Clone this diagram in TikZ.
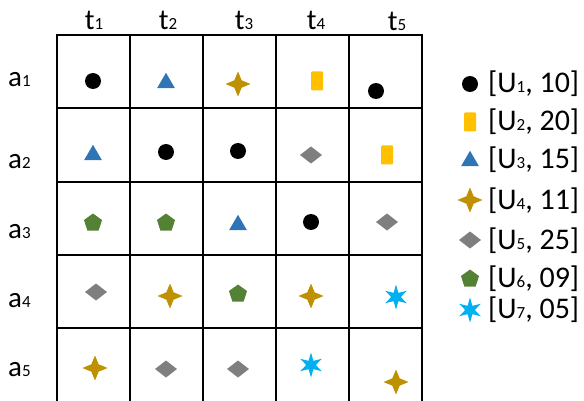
\documentclass[tikz,border=0pt]{standalone}
\usepackage{fontspec}
\setmainfont{Carlito}
\usetikzlibrary{shapes.geometric}

\definecolor{uBlue}{HTML}{2E75B6}
\definecolor{uYellow}{HTML}{FFC000}
\definecolor{uGold}{HTML}{BF9000}
\definecolor{uGray}{HTML}{7F7F7F}
\definecolor{uGreen}{HTML}{548235}
\definecolor{uCyan}{HTML}{00B0F0}

% small index digit set on the baseline
\newcommand{\idx}[1]{{\fontsize{17}{17}\selectfont #1}}

\tikzset{
  mk/.style={inner sep=0pt, outer sep=0pt, draw=none},
  uone/.style={mk, circle, fill=black, minimum size=16pt},
  utwo/.style={mk, rectangle, fill=uYellow, minimum width=12pt, minimum height=19pt, rounded corners=1pt},
  uthree/.style={mk, regular polygon, regular polygon sides=3, fill=uBlue, minimum size=20.5pt},
  ufour/.style={mk, star, star points=4, star point ratio=2.4, fill=uGold, minimum size=25pt},
  ufive/.style={mk, diamond, fill=uGray, minimum width=22pt, minimum height=17pt},
  usix/.style={mk, regular polygon, regular polygon sides=5, fill=uGreen, minimum size=19pt},
  useven/.style={mk, star, star points=6, star point ratio=2.6, fill=uCyan, minimum size=25pt},
  hdr/.style={anchor=base, inner sep=0pt, font=\fontsize{29}{32}\selectfont},
  rowlbl/.style={anchor=base west, inner sep=0pt, font=\fontsize{29}{32}\selectfont},
  legtxt/.style={anchor=base west, inner sep=0pt, font=\fontsize{30}{34}\selectfont},
  gridline/.style={line width=1.8pt, black}
}

\begin{document}
\begin{tikzpicture}[x=1pt, y=-1pt]
  \useasboundingbox (0,0) rectangle (584,401);

  % table grid (open at the bottom)
  \foreach \gx in {57,130,203,276,349,422}
    \draw[gridline] (\gx,34) -- (\gx,402);
  \foreach \gy in {35,108,182,255,328}
    \draw[gridline] (56,\gy) -- (423,\gy);

  % column headers
  \node[hdr] (t1) at (94,30) {t\idx{1}};
  \node[hdr] (t2) at (168,30) {t\idx{2}};
  \node[hdr] (t3) at (244,30) {t\idx{3}};
  \node[hdr] (t4) at (316,30) {t\idx{4}};
  \node[hdr] (t5) at (397,31) {t\idx{5}};

  % row labels
  \node[rowlbl] (a1) at (8,87) {a\idx{1}};
  \node[rowlbl] (a2) at (8,168) {a\idx{2}};
  \node[rowlbl] (a3) at (8,238) {a\idx{3}};
  \node[rowlbl] (a4) at (8,307) {a\idx{4}};
  \node[rowlbl] (a5) at (8,376) {a\idx{5}};

  % row a1
  \node[uone]   (c11) at (93,81) {};
  \node[uthree] (c12) at (166,83) {};
  \node[ufour]  (c13) at (238,84) {};
  \node[utwo]   (c14) at (317,81) {};
  \node[uone]   (c15) at (376,91) {};
  % row a2
  \node[uthree] (c21) at (93,155) {};
  \node[uone]   (c22) at (166,152) {};
  \node[uone]   (c23) at (238,151) {};
  \node[ufive]  (c24) at (311,155) {};
  \node[utwo]   (c25) at (387,155) {};
  % row a3
  \node[usix]   (c31) at (93,223) {};
  \node[usix]   (c32) at (166,223) {};
  \node[uthree] (c33) at (238,225) {};
  \node[uone]   (c34) at (311,222) {};
  \node[ufive]  (c35) at (387,222) {};
  % row a4
  \node[ufive]  (c41) at (96,292) {};
  \node[ufour]  (c42) at (170,296) {};
  \node[usix]   (c43) at (238,294) {};
  \node[ufour]  (c44) at (311,296) {};
  \node[useven] (c45) at (396,297) {};
  % row a5
  \node[ufour]  (c51) at (95,368) {};
  \node[ufive]  (c52) at (166,369) {};
  \node[ufive]  (c53) at (238,369) {};
  \node[useven] (c54) at (311,365) {};
  \node[ufour]  (c55) at (396,382) {};

  % legend
  \node[uone]   (k1) at (470,84) {};
  \node[utwo]   (k2) at (470,122) {};
  \node[uthree] (k3) at (470,161) {};
  \node[ufour]  (k4) at (470,200) {};
  \node[ufive]  (k5) at (470,240) {};
  \node[usix]   (k6) at (470,279) {};
  \node[useven] (k7) at (470,310) {};

  \node[legtxt] (l1) at (488,93)  {[U\idx{1}, 10]};
  \node[legtxt] (l2) at (488,131) {[U\idx{2}, 20]};
  \node[legtxt] (l3) at (488,168) {[U\idx{3}, 15]};
  \node[legtxt] (l4) at (488,209) {[U\idx{4}, 11]};
  \node[legtxt] (l5) at (488,249) {[U\idx{5}, 25]};
  \node[legtxt] (l6) at (488,287) {[U\idx{6}, 09]};
  \node[legtxt] (l7) at (488,318) {[U\idx{7}, 05]};
\end{tikzpicture}
\end{document}
